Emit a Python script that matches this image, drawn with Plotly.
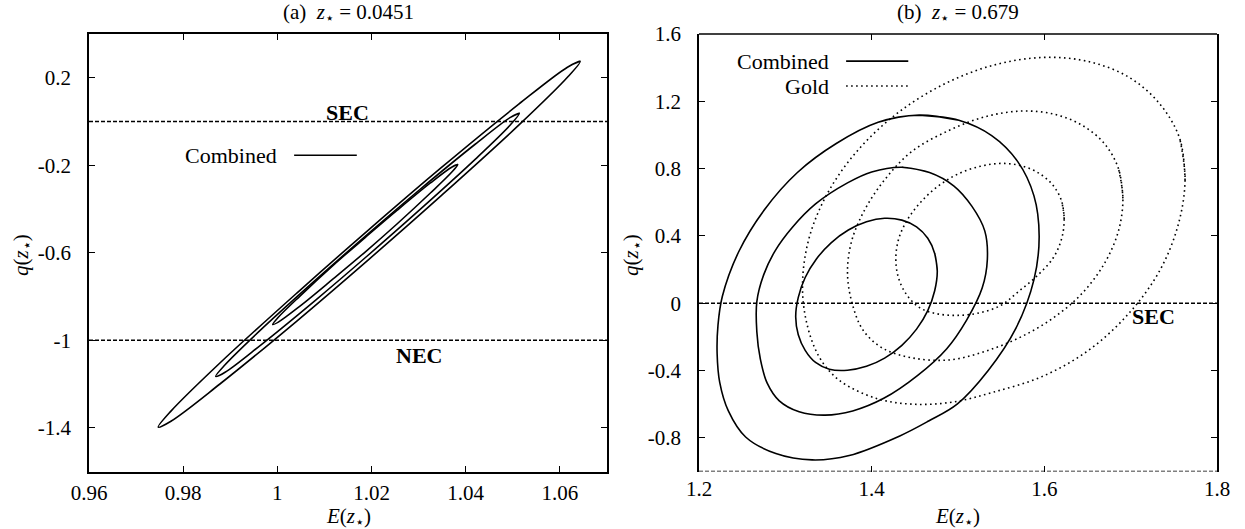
import plotly.graph_objects as go

# ---------------- Panel (a): z* = 0.0451, Combined contours (1,2,3 sigma) -------------
a_inner_E = [1.0383, 1.0371, 1.0325, 1.0254, 1.0187, 1.0119, 1.0048, 1.0002, 0.9990,
             1.0002, 1.0048, 1.0119, 1.0187, 1.0254, 1.0325, 1.0371]
a_inner_q = [-0.197, -0.208, -0.281, -0.4065, -0.5295, -0.6565, -0.798, -0.895, -0.928,
             -0.917, -0.844, -0.7185, -0.5955, -0.4685, -0.327, -0.230]
a_mid_E = [1.0514, 1.0495, 1.0420, 1.0302, 1.0192, 1.0082, 0.9964, 0.9889, 0.9869,
           0.9889, 0.9964, 1.0082, 1.0192, 1.0302, 1.0420, 1.0495]
a_mid_q = [0.038, 0.019, -0.104, -0.312, -0.5145, -0.723, -0.954, -1.112, -1.165,
           -1.146, -1.023, -0.815, -0.6125, -0.404, -0.173, -0.015]
a_out_E = [1.0643, 1.0616, 1.0512, 1.0348, 1.0195, 1.0042, 0.9878, 0.9774, 0.9747,
           0.9774, 0.9878, 1.0042, 1.0195, 1.0348, 1.0512, 1.0616]
a_out_q = [0.275, 0.248, 0.078, -0.211, -0.493, -0.783, -1.104, -1.324, -1.397,
           -1.370, -1.200, -0.911, -0.629, -0.339, -0.018, 0.202]

# ---------------- Panel (b): z* = 0.679, Combined (solid) and Gold (dotted) ----------
b_c1_E = [1.476, 1.473, 1.465, 1.452, 1.435, 1.415, 1.394, 1.373, 1.353, 1.336, 1.323, 1.315,
          1.312, 1.315, 1.323, 1.335, 1.351, 1.372, 1.394, 1.415, 1.435, 1.452, 1.465, 1.473]
b_c1_q = [0.190, 0.296, 0.386, 0.454, 0.494, 0.505, 0.484, 0.435, 0.359, 0.263, 0.153, 0.035,
          -0.081, -0.187, -0.280, -0.352, -0.392, -0.398, -0.375, -0.326, -0.250, -0.154, -0.044, 0.074]
b_c2_E = [1.435, 1.467, 1.495, 1.516, 1.531, 1.534, 1.528, 1.510, 1.487, 1.453, 1.414, 1.378,
          1.346, 1.316, 1.293, 1.279, 1.271, 1.267, 1.267, 1.275, 1.288, 1.308, 1.335, 1.372, 1.400]
b_c2_q = [0.808, 0.777, 0.698, 0.577, 0.430, 0.260, 0.090, -0.100, -0.270, -0.430, -0.565, -0.640,
          -0.665, -0.645, -0.580, -0.475, -0.330, -0.170, 0.010, 0.170, 0.310, 0.450, 0.590, 0.715, 0.780]
b_c3_E = [1.455, 1.501, 1.539, 1.569, 1.588, 1.594, 1.588, 1.567, 1.535, 1.499, 1.466, 1.432,
          1.374, 1.331, 1.289, 1.254, 1.234, 1.224, 1.221, 1.222, 1.227, 1.246, 1.276, 1.314,
          1.359, 1.4075]
b_c3_q = [1.118, 1.087, 0.996, 0.843, 0.638, 0.400, 0.140, -0.150, -0.400, -0.600, -0.700, -0.790,
          -0.905, -0.931, -0.893, -0.795, -0.640, -0.470, -0.300, -0.130, 0.040, 0.306, 0.557, 0.777,
          0.949, 1.075]

b_g1_E = [1.623, 1.620, 1.610, 1.594, 1.574, 1.551, 1.526, 1.500, 1.477, 1.457, 1.441, 1.431,
          1.428, 1.431, 1.440, 1.455, 1.475, 1.500, 1.526, 1.550, 1.569, 1.591, 1.610, 1.620]
b_g1_q = [0.500, 0.608, 0.701, 0.772, 0.816, 0.831, 0.814, 0.768, 0.696, 0.602, 0.493, 0.377,
          0.260, 0.152, 0.055, -0.025, -0.062, -0.072, -0.056, -0.012, 0.065, 0.160, 0.267, 0.383]
b_g2_E = [1.691, 1.686, 1.670, 1.644, 1.611, 1.573, 1.532, 1.490, 1.447, 1.417, 1.393, 1.377,
          1.372, 1.377, 1.390, 1.413, 1.447, 1.490, 1.532, 1.573, 1.611, 1.644, 1.670, 1.686]
b_g2_q = [0.623, 0.798, 0.946, 1.057, 1.124, 1.142, 1.109, 1.028, 0.904, 0.746, 0.565, 0.373,
          0.183, 0.007, -0.160, -0.268, -0.325, -0.337, -0.285, -0.200, -0.085, 0.060, 0.240, 0.432]
b_g3_E = [1.763, 1.757, 1.734, 1.699, 1.653, 1.600, 1.542, 1.485, 1.431, 1.385, 1.350, 1.328,
          1.320, 1.324, 1.339, 1.362, 1.405, 1.447, 1.493, 1.540, 1.600, 1.653, 1.699, 1.734, 1.755]
b_g3_q = [0.731, 0.976, 1.183, 1.340, 1.434, 1.461, 1.416, 1.305, 1.134, 0.915, 0.664, 0.396,
          0.131, -0.100, -0.317, -0.456, -0.565, -0.600, -0.588, -0.530, -0.430, -0.273, -0.054, 0.197, 0.465]

SEC_q = 0.0
NEC_q = -1.0

a_xticks = [0.96, 0.98, 1.0, 1.02, 1.04, 1.06]
a_xtext = ["0.96", "0.98", "1", "1.02", "1.04", "1.06"]
a_yticks = [-1.4, -1.0, -0.6, -0.2, 0.2]
a_ytext = ["-1.4", "-1", "-0.6", "-0.2", "0.2"]
b_xticks = [1.2, 1.4, 1.6, 1.8]
b_xtext = ["1.2", "1.4", "1.6", "1.8"]
b_yticks = [-0.8, -0.4, 0.0, 0.4, 0.8, 1.2, 1.6]
b_ytext = ["-0.8", "-0.4", "0", "0.4", "0.8", "1.2", "1.6"]

FONT = "Liberation Serif, Times New Roman, DejaVu Serif, serif"
LW = 1.6
DOT = "1.6px,3.4px"
SMOOTH = 1.0


def closed(v):
    # repeat the first two read points so the spline closes smoothly
    return list(v) + list(v[:2])


fig = go.Figure()

for E, q in [(a_inner_E, a_inner_q), (a_mid_E, a_mid_q), (a_out_E, a_out_q)]:
    fig.add_trace(go.Scatter(x=closed(E), y=closed(q), mode="lines", xaxis="x", yaxis="y",
                             line=dict(color="black", width=LW, shape="spline", smoothing=1.0),
                             showlegend=False, hoverinfo="skip"))

for E, q in [(b_g1_E, b_g1_q), (b_g2_E, b_g2_q), (b_g3_E, b_g3_q)]:
    fig.add_trace(go.Scatter(x=closed(E), y=closed(q), mode="lines", xaxis="x2", yaxis="y2",
                             line=dict(color="black", width=LW, dash=DOT, shape="spline", smoothing=SMOOTH),
                             showlegend=False, hoverinfo="skip"))

for E, q in [(b_c1_E, b_c1_q), (b_c2_E, b_c2_q), (b_c3_E, b_c3_q)]:
    fig.add_trace(go.Scatter(x=closed(E), y=closed(q), mode="lines", xaxis="x2", yaxis="y2",
                             line=dict(color="black", width=LW, shape="spline", smoothing=SMOOTH),
                             showlegend=False, hoverinfo="skip"))

W, H = 1245, 529
xa_dom = [89 / W, 607 / W]
xb_dom = [699 / W, 1217 / W]
y_dom = [1 - 471.5 / H, 1 - 34 / H]

axis_common = dict(ticks="inside", ticklen=6, tickwidth=1.2, tickcolor="black",
                   showgrid=False, zeroline=False, linecolor="black", linewidth=1.5,
                   tickfont=dict(family=FONT, size=21, color="black"), automargin=False)

shapes = []
dashed = dict(color="black", width=1.3, dash="4px,2px")
shapes.append(dict(type="line", xref="x domain", yref="y", x0=0, x1=1, y0=SEC_q, y1=SEC_q, line=dashed))
shapes.append(dict(type="line", xref="x domain", yref="y", x0=0, x1=1, y0=NEC_q, y1=NEC_q, line=dashed))
shapes.append(dict(type="line", xref="x2 domain", yref="y2", x0=0, x1=1, y0=SEC_q, y1=SEC_q, line=dashed))
shapes.append(dict(type="line", xref="x2 domain", yref="y2", x0=0, x1=1, y0=NEC_q, y1=NEC_q, line=dashed))
# right panel top border (its bottom edge is the dashed NEC line)
shapes.append(dict(type="line", xref="x2 domain", yref="y2 domain", x0=0, x1=1, y0=1, y1=1,
                   line=dict(color="black", width=1.5)))
# legend samples
shapes.append(dict(type="line", xref="x domain", yref="y domain", x0=0.396, x1=0.517, y0=0.723, y1=0.723,
                   line=dict(color="black", width=LW)))
shapes.append(dict(type="line", xref="x2 domain", yref="y2 domain", x0=0.284, x1=0.404, y0=0.938, y1=0.938,
                   line=dict(color="black", width=LW)))
shapes.append(dict(type="line", xref="x2 domain", yref="y2 domain", x0=0.284, x1=0.404, y0=0.881, y1=0.881,
                   line=dict(color="black", width=LW, dash=DOT)))

txt = dict(family=FONT, size=21, color="black")
leg = dict(family=FONT, size=22, color="black")
ann = []
ann.append(dict(text="(a)\u00a0\u00a0<i>z</i><sub>⋆</sub>\u00a0=\u00a00.0451", xref="paper", yref="paper",
                x=348 / W, y=1 - 13 / H, showarrow=False, font=txt, xanchor="center", yanchor="middle"))
ann.append(dict(text="(b)\u00a0\u00a0<i>z</i><sub>⋆</sub>\u00a0=\u00a00.679", xref="paper", yref="paper",
                x=958 / W, y=1 - 13 / H, showarrow=False, font=txt, xanchor="center", yanchor="middle"))
for cx in (348, 958):
    ann.append(dict(text="<i>E</i>(<i>z</i><sub>⋆</sub>)", xref="paper", yref="paper",
                    x=cx / W, y=1 - 517 / H, showarrow=False, font=txt, xanchor="center", yanchor="middle"))
for cx in (22, 632):
    ann.append(dict(text="<i>q</i>(<i>z</i><sub>⋆</sub>)", xref="paper", yref="paper",
                    x=cx / W, y=1 - 255 / H, showarrow=False, font=txt, textangle=-90,
                    xanchor="center", yanchor="middle"))
bold = dict(family=FONT, size=22, color="black")
ann.append(dict(text="<b>SEC</b>", xref="x", yref="y", x=1.0148, y=0.043, showarrow=False, font=bold))
ann.append(dict(text="<b>NEC</b>", xref="x", yref="y", x=1.0301, y=-1.069, showarrow=False, font=bold))
ann.append(dict(text="<b>SEC</b>", xref="x2", yref="y2", x=1.7265, y=-0.08, showarrow=False, font=bold))
ann.append(dict(text="Combined", xref="x domain", yref="y domain", x=0.367, y=0.723, showarrow=False,
                font=leg, xanchor="right", yanchor="middle"))
ann.append(dict(text="Combined", xref="x2 domain", yref="y2 domain", x=0.255, y=0.938, showarrow=False,
                font=leg, xanchor="right", yanchor="middle"))
ann.append(dict(text="Gold", xref="x2 domain", yref="y2 domain", x=0.255, y=0.881, showarrow=False,
                font=leg, xanchor="right", yanchor="middle"))

fig.update_layout(
    width=W, height=H, margin=dict(l=0, r=0, t=0, b=0),
    paper_bgcolor="white", plot_bgcolor="white",
    showlegend=False,
    xaxis=dict(domain=xa_dom, range=[0.96, 1.07], tickvals=a_xticks, ticktext=a_xtext,
               showline=True, mirror="ticks", anchor="y", ticklabelstandoff=2, **axis_common),
    yaxis=dict(domain=y_dom, range=[-1.6, 0.4], tickvals=a_yticks, ticktext=a_ytext,
               showline=True, mirror="ticks", anchor="x", ticklabelstandoff=12, **axis_common),
    xaxis2=dict(domain=xb_dom, range=[1.2, 1.8], tickvals=b_xticks, ticktext=b_xtext,
                showline=False, mirror="ticks", anchor="y2", ticklabelstandoff=2, **axis_common),
    yaxis2=dict(domain=y_dom, range=[-1.0, 1.6], tickvals=b_yticks, ticktext=b_ytext,
                showline=True, mirror="ticks", anchor="x2", ticklabelstandoff=12, **axis_common),
    shapes=shapes, annotations=ann,
)

fig.write_html("out.html", config={"displayModeBar": False},
               post_script="document.body.style.margin='0';document.body.style.overflow='hidden';")
